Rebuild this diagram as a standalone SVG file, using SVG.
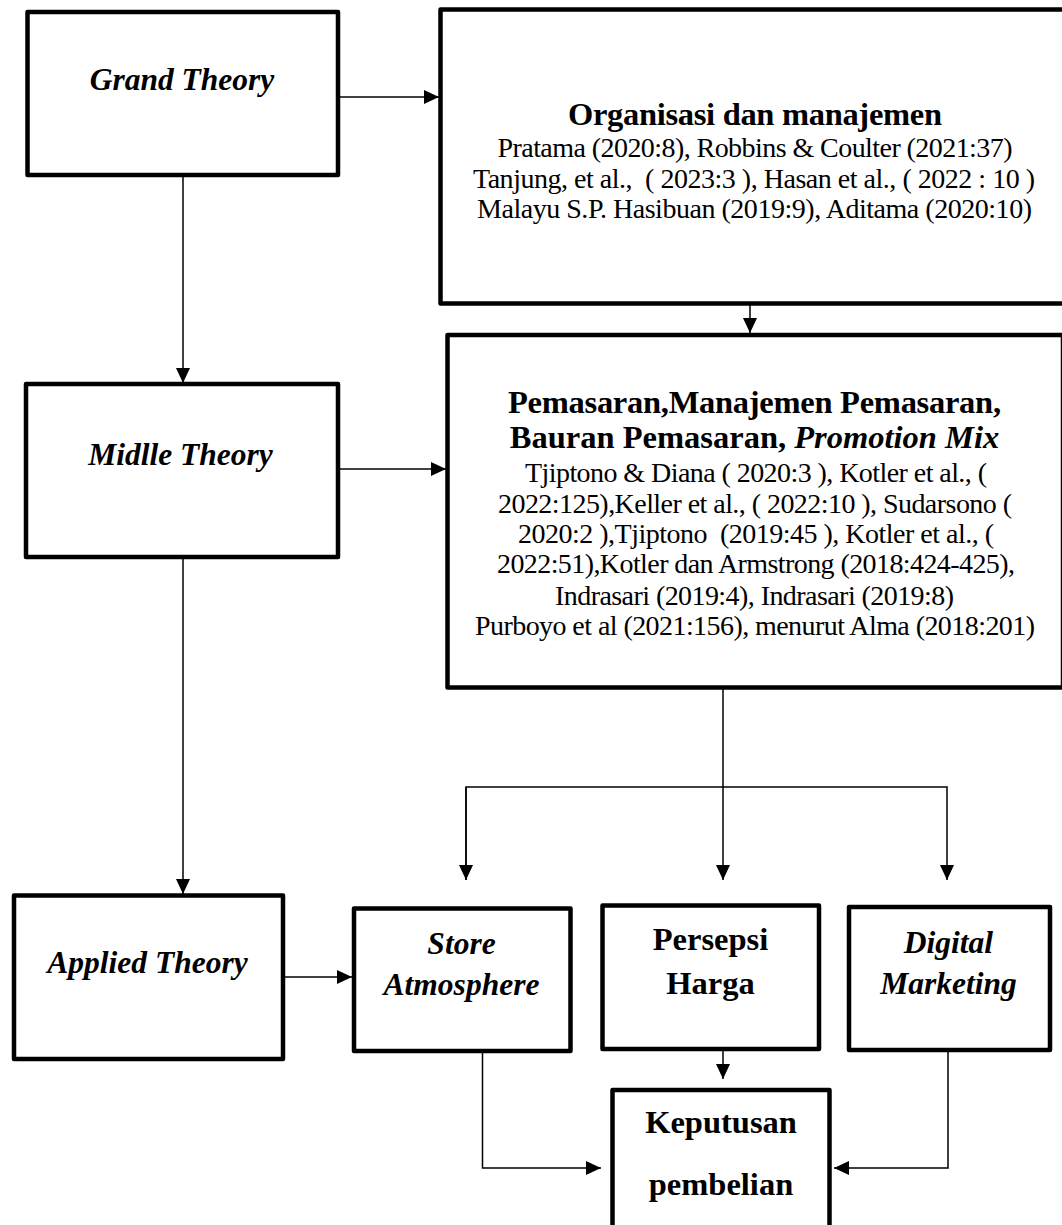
<svg xmlns="http://www.w3.org/2000/svg" width="1062" height="1225" viewBox="0 0 1062 1225">
<style>
.box{fill:#fff;stroke:#000;stroke-width:4.5;stroke-linejoin:round}
.lbl{font-family:"Liberation Serif","Times New Roman",serif;font-weight:bold;font-style:italic;font-size:31.5px;text-anchor:middle;fill:#000}
.bt{font-family:"Liberation Serif","Times New Roman",serif;font-weight:bold;font-size:32.5px;text-anchor:middle;fill:#000}
.ref{font-family:"Liberation Serif","Times New Roman",serif;font-size:28px;text-anchor:middle;fill:#000;white-space:pre}
.con{fill:none;stroke:#000;stroke-width:1.5}
</style>
<defs>
<marker id="ah" markerUnits="userSpaceOnUse" markerWidth="15" markerHeight="14" refX="15" refY="7" orient="auto">
<path d="M0,0 L15,7 L0,14 z" fill="#000"/>
</marker>
</defs>
<rect width="1062" height="1225" fill="#fff"/>
<g id="connectors">
<path class="con" d="M338,97 H439" marker-end="url(#ah)"/>
<path class="con" d="M183,175 V383" marker-end="url(#ah)"/>
<path class="con" d="M750,303.5 V333" marker-end="url(#ah)"/>
<path class="con" d="M338,469 H446" marker-end="url(#ah)"/>
<path class="con" d="M183,557 V894" marker-end="url(#ah)"/>
<path class="con" d="M723,687.5 V880" marker-end="url(#ah)"/>
<path class="con" d="M466,880 V787 H947 V880" marker-end="url(#ah)"/>
<path class="con" d="M466,787 V880" marker-end="url(#ah)"/>
<path class="con" d="M283,977 H352" marker-end="url(#ah)"/>
<path class="con" d="M723,1049 V1079" marker-end="url(#ah)"/>
<path class="con" d="M482.5,1051 V1168 H601" marker-end="url(#ah)"/>
<path class="con" d="M948,1050 V1168 H834" marker-end="url(#ah)"/>
</g>
<g id="grand-theory">
<rect class="box" x="27.5" y="12" width="310.5" height="163"/>
<text class="lbl" x="182" y="90">Grand Theory</text>
</g>
<g id="organisasi">
<rect class="box" x="440.5" y="9.5" width="630" height="294"/>
<text class="bt" x="755" y="125" textLength="374">Organisasi dan manajemen</text>
<text class="ref" x="755" y="157" textLength="515">Pratama (2020:8), Robbins &amp; Coulter (2021:37)</text>
<text class="ref" x="754" y="188" textLength="562">Tanjung, et al.,  ( 2023:3 ), Hasan et al., ( 2022 : 10 )</text>
<text class="ref" x="754.5" y="218" textLength="555">Malayu S.P. Hasibuan (2019:9), Aditama (2020:10)</text>
</g>
<g id="midlle-theory">
<rect class="box" x="26" y="384" width="312" height="173"/>
<text class="lbl" x="180.5" y="465">Midlle Theory</text>
</g>
<g id="pemasaran">
<rect class="box" x="447.5" y="335" width="615.5" height="352.5"/>
<text class="bt" x="754.5" y="413" textLength="493">Pemasaran,Manajemen Pemasaran,</text>
<text class="bt" x="754.5" y="448">Bauran Pemasaran, <tspan font-style="italic">Promotion Mix</tspan></text>
<text class="ref" x="756" y="482" textLength="462">Tjiptono &amp; Diana ( 2020:3 ), Kotler et al., (</text>
<text class="ref" x="755" y="513" textLength="514">2022:125),Keller et al., ( 2022:10 ), Sudarsono (</text>
<text class="ref" x="756" y="543" textLength="476">2020:2 ),Tjiptono  (2019:45 ), Kotler et al., (</text>
<text class="ref" x="756" y="573" textLength="518">2022:51),Kotler dan Armstrong (2018:424-425),</text>
<text class="ref" x="754.5" y="605" textLength="399">Indrasari (2019:4), Indrasari (2019:8)</text>
<text class="ref" x="755" y="635" textLength="560">Purboyo et al (2021:156), menurut Alma (2018:201)</text>
</g>
<g id="applied-theory">
<rect class="box" x="14" y="895.5" width="269" height="163.5"/>
<text class="lbl" x="147.5" y="973">Applied Theory</text>
</g>
<g id="store-atmosphere">
<rect class="box" x="354" y="908.5" width="216.5" height="142.5"/>
<text class="lbl" x="461.5" y="954">Store</text>
<text class="lbl" x="461.5" y="995">Atmosphere</text>
</g>
<g id="persepsi-harga">
<rect class="box" x="602.5" y="905.5" width="216.5" height="143.5"/>
<text class="bt" x="710.5" y="950">Persepsi</text>
<text class="bt" x="710.5" y="994">Harga</text>
</g>
<g id="digital-marketing">
<rect class="box" x="849" y="907" width="201" height="143"/>
<text class="lbl" x="948.5" y="953">Digital</text>
<text class="lbl" x="948.5" y="994">Marketing</text>
</g>
<g id="keputusan-pembelian">
<rect class="box" x="612.5" y="1090" width="217" height="150"/>
<text class="bt" x="721" y="1132.5">Keputusan</text>
<text class="bt" x="721" y="1195">pembelian</text>
</g>
</svg>
